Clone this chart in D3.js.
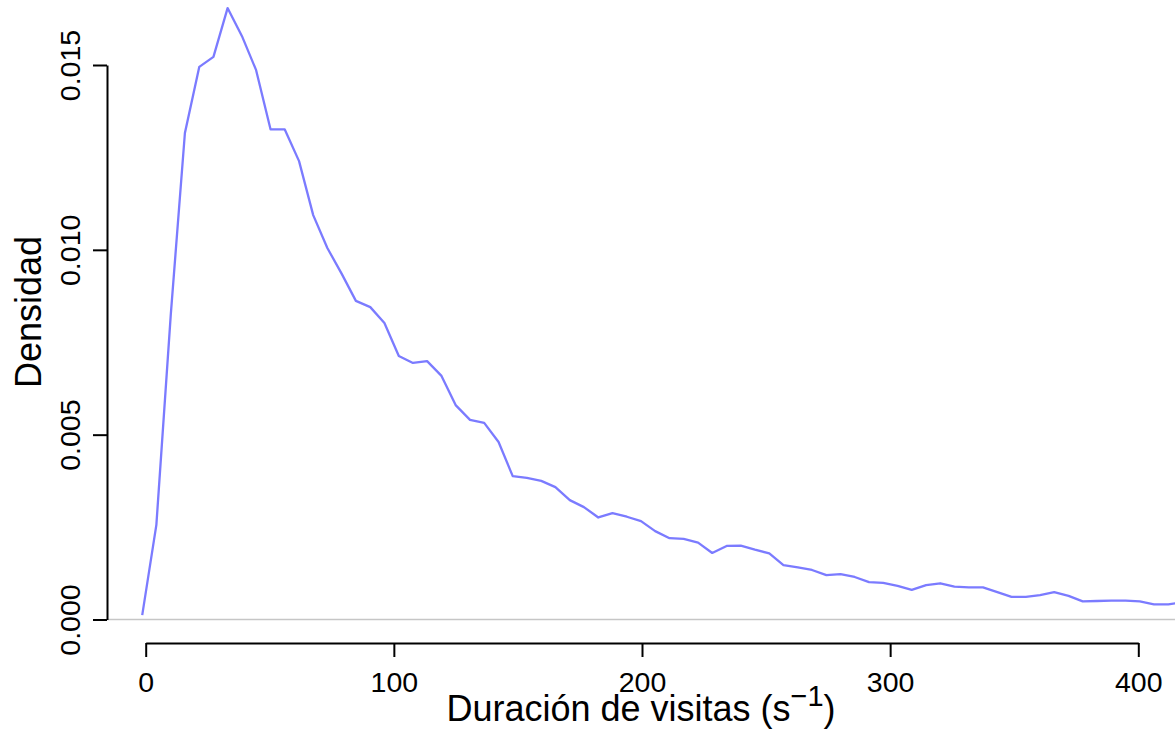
<!DOCTYPE html>
<html>
<head>
<meta charset="utf-8">
<script src="https://cdn.jsdelivr.net/npm/d3@7/dist/d3.min.js"></script>
<style>
  html, body { margin: 0; padding: 0; background: #ffffff; }
  svg { display: block; }
  text { font-family: "Liberation Sans", Arial, sans-serif; fill: #000; }
</style>
</head>
<body>
<svg id="chart" width="1175" height="735"></svg>
<script>
// Kernel density estimate of visit duration (seconds)
const duracion = [
  -1.4, 4.3, 10.1, 15.8, 21.6, 27.3, 33.0, 38.8, 44.5, 50.3,
  56.0, 61.8, 67.5, 73.2, 79.0, 84.7, 90.5, 96.2, 102.0, 107.7,
  113.4, 119.2, 124.9, 130.7, 136.4, 142.2, 147.9, 153.6, 159.4, 165.1,
  170.9, 176.6, 182.4, 188.1, 193.9, 199.6, 205.3, 211.1, 216.8, 222.6,
  228.3, 234.1, 239.8, 245.5, 251.3, 257.0, 262.8, 268.5, 274.3, 280.0,
  285.7, 291.5, 297.2, 303.0, 308.7, 314.5, 320.2, 325.9, 331.7, 337.4,
  343.2, 348.9, 354.7, 360.4, 366.1, 371.9, 377.6, 383.4, 389.1, 394.9,
  400.6, 406.3, 412.1, 417.8
];
const densidad = [
  0.00012, 0.00256, 0.00824, 0.01316, 0.01495, 0.01522, 0.01654, 0.01578, 0.01486, 0.01326,
  0.01326, 0.01240, 0.01094, 0.01005, 0.00935, 0.00862, 0.00845, 0.00802, 0.00713, 0.00694,
  0.00699, 0.00659, 0.00580, 0.00540, 0.00532, 0.00480, 0.00388, 0.00383, 0.00375, 0.00358,
  0.00323, 0.00304, 0.00276, 0.00288, 0.00278, 0.00266, 0.00239, 0.00220, 0.00218, 0.00208,
  0.00180, 0.00199, 0.00200, 0.00189, 0.00179, 0.00147, 0.00141, 0.00134, 0.00120, 0.00123,
  0.00115, 0.00101, 0.00099, 0.00091, 0.00080, 0.00093, 0.00098, 0.00089, 0.00087, 0.00087,
  0.00074, 0.00061, 0.00061, 0.00066, 0.00074, 0.00064, 0.00049, 0.00050, 0.00051, 0.00051,
  0.00049, 0.00041, 0.00041, 0.00047
];
const xTicks = [0, 100, 200, 300, 400];
const yTicks = [0, 0.005, 0.010, 0.015];
const xLabel = "Duración de visitas (s";
const xLabelSup = "\u22121";
const yLabel = "Densidad";

const svg = d3.select("#chart");
const W = 1175, H = 735;
const tickFont = 28.5;
const titleFont = 36;
const supFont = 29;

const x = d3.scaleLinear().domain([0, 400]).range([145.7, 1138.3]);
const y = d3.scaleLinear().domain([0, 0.015]).range([619.5, 65]);
const plotLeft = 107, axisY = 643;

// zero reference line
svg.append("line")
  .attr("x1", plotLeft).attr("x2", W)
  .attr("y1", y(0)).attr("y2", y(0))
  .attr("stroke", "#c6c6c6").attr("stroke-width", 1.5);

// density curve
const pts = duracion.map((d, i) => [d, densidad[i]]);
svg.append("path")
  .datum(pts)
  .attr("fill", "none")
  .attr("stroke", "#7b7bff")
  .attr("stroke-width", 2.3)
  .attr("stroke-linejoin", "round")
  .attr("d", d3.line().x(d => x(d[0])).y(d => y(d[1])));

// x axis
const gx = svg.append("g")
  .attr("transform", `translate(0,${axisY})`)
  .call(d3.axisBottom(x).tickValues(xTicks).tickFormat(d3.format("d"))
    .tickSize(14).tickSizeOuter(0).tickPadding(14.7));
gx.selectAll("path, line").attr("stroke", "#000").attr("stroke-width", 2);
gx.selectAll("text").style("font-size", tickFont + "px")
  .style("font-family", "'Liberation Sans', Arial, sans-serif").attr("fill", "#000");

// y axis with rotated labels
const gy = svg.append("g")
  .attr("transform", `translate(${plotLeft},0)`)
  .call(d3.axisLeft(y).tickValues(yTicks).tickFormat(d3.format(".3f"))
    .tickSize(14).tickSizeOuter(0));
gy.selectAll("path, line").attr("stroke", "#000").attr("stroke-width", 2);
gy.selectAll("text")
  .attr("transform", "rotate(-90)")
  .attr("x", 0).attr("y", -27).attr("dy", 0)
  .attr("text-anchor", "middle")
  .style("font-size", tickFont + "px")
  .style("font-family", "'Liberation Sans', Arial, sans-serif").attr("fill", "#000");

// x title with superscript
const xt = svg.append("text")
  .attr("x", 641).attr("y", 721)
  .attr("text-anchor", "middle")
  .style("font-size", titleFont + "px");
xt.append("tspan").text(xLabel);
xt.append("tspan").attr("dy", -15).style("font-size", supFont + "px").text(xLabelSup);
xt.append("tspan").attr("dy", 15).text(")");

// y title
svg.append("text")
  .attr("transform", "translate(41,312) rotate(-90)")
  .attr("text-anchor", "middle")
  .style("font-size", titleFont + "px")
  .text(yLabel);
</script>
</body>
</html>
